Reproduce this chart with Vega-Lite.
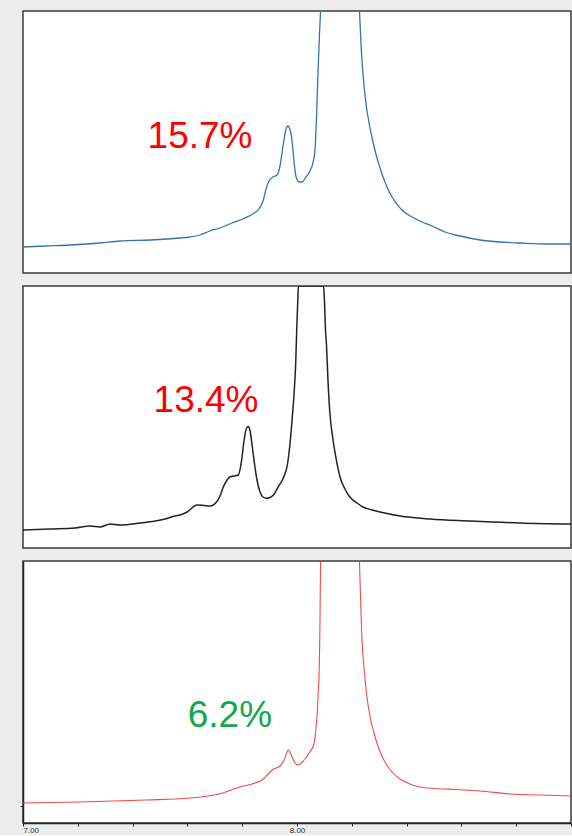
{
  "$schema": "https://vega.github.io/schema/vega-lite/v6.json",
  "background": "#ececec",
  "padding": {"left": 18, "top": 10, "right": 0, "bottom": 0},
  "config": {
    "view": {"fill": "white", "stroke": "#3a3a3a", "strokeWidth": 1.5},
    "text": {"font": "Liberation Sans"}
  },
  "datasets": {
    "spectra": [
      {"panel": 1, "ppm": 7.000, "intensity": 3.62},
      {"panel": 1, "ppm": 7.080, "intensity": 4.03},
      {"panel": 1, "ppm": 7.172, "intensity": 4.44},
      {"panel": 1, "ppm": 7.281, "intensity": 5.25},
      {"panel": 1, "ppm": 7.354, "intensity": 6.07},
      {"panel": 1, "ppm": 7.464, "intensity": 6.48},
      {"panel": 1, "ppm": 7.573, "intensity": 7.29},
      {"panel": 1, "ppm": 7.609, "intensity": 7.70},
      {"panel": 1, "ppm": 7.646, "intensity": 8.52},
      {"panel": 1, "ppm": 7.682, "intensity": 10.15},
      {"panel": 1, "ppm": 7.719, "intensity": 11.38},
      {"panel": 1, "ppm": 7.763, "intensity": 13.42},
      {"panel": 1, "ppm": 7.810, "intensity": 15.46},
      {"panel": 1, "ppm": 7.839, "intensity": 17.10},
      {"panel": 1, "ppm": 7.861, "intensity": 19.14},
      {"panel": 1, "ppm": 7.876, "intensity": 22.40},
      {"panel": 1, "ppm": 7.887, "intensity": 27.31},
      {"panel": 1, "ppm": 7.898, "intensity": 30.57},
      {"panel": 1, "ppm": 7.912, "intensity": 32.21},
      {"panel": 1, "ppm": 7.927, "intensity": 33.02},
      {"panel": 1, "ppm": 7.938, "intensity": 36.70},
      {"panel": 1, "ppm": 7.949, "intensity": 44.87},
      {"panel": 1, "ppm": 7.960, "intensity": 51.81},
      {"panel": 1, "ppm": 7.967, "intensity": 53.03},
      {"panel": 1, "ppm": 7.974, "intensity": 51.81},
      {"panel": 1, "ppm": 7.982, "intensity": 46.91},
      {"panel": 1, "ppm": 7.989, "intensity": 38.74},
      {"panel": 1, "ppm": 7.996, "intensity": 32.61},
      {"panel": 1, "ppm": 8.007, "intensity": 30.16},
      {"panel": 1, "ppm": 8.018, "intensity": 30.16},
      {"panel": 1, "ppm": 8.033, "intensity": 32.21},
      {"panel": 1, "ppm": 8.047, "intensity": 34.66},
      {"panel": 1, "ppm": 8.058, "intensity": 37.92},
      {"panel": 1, "ppm": 8.066, "intensity": 43.64},
      {"panel": 1, "ppm": 8.072, "intensity": 59.16},
      {"panel": 1, "ppm": 8.077, "intensity": 75.50},
      {"panel": 1, "ppm": 8.082, "intensity": 90.61},
      {"panel": 1, "ppm": 8.086, "intensity": 100},
      {"panel": 1, "ppm": 8.157, "intensity": 400},
      {"panel": 1, "ppm": 8.228, "intensity": 100},
      {"panel": 1, "ppm": 8.235, "intensity": 83.66},
      {"panel": 1, "ppm": 8.243, "intensity": 71.41},
      {"panel": 1, "ppm": 8.252, "intensity": 62.02},
      {"panel": 1, "ppm": 8.263, "intensity": 54.26},
      {"panel": 1, "ppm": 8.274, "intensity": 48.13},
      {"panel": 1, "ppm": 8.288, "intensity": 41.60},
      {"panel": 1, "ppm": 8.303, "intensity": 35.88},
      {"panel": 1, "ppm": 8.321, "intensity": 30.16},
      {"panel": 1, "ppm": 8.339, "intensity": 25.67},
      {"panel": 1, "ppm": 8.361, "intensity": 21.59},
      {"panel": 1, "ppm": 8.387, "intensity": 18.32},
      {"panel": 1, "ppm": 8.420, "intensity": 15.87},
      {"panel": 1, "ppm": 8.456, "intensity": 13.83},
      {"panel": 1, "ppm": 8.493, "intensity": 12.19},
      {"panel": 1, "ppm": 8.540, "intensity": 9.74},
      {"panel": 1, "ppm": 8.595, "intensity": 8.11},
      {"panel": 1, "ppm": 8.668, "intensity": 6.48},
      {"panel": 1, "ppm": 8.741, "intensity": 5.66},
      {"panel": 1, "ppm": 8.814, "intensity": 5.25},
      {"panel": 1, "ppm": 8.905, "intensity": 4.84},
      {"panel": 1, "ppm": 9.000, "intensity": 4.84},

      {"panel": 2, "ppm": 7.000, "intensity": 0.35},
      {"panel": 2, "ppm": 7.099, "intensity": 0.76},
      {"panel": 2, "ppm": 7.190, "intensity": 1.17},
      {"panel": 2, "ppm": 7.245, "intensity": 1.98},
      {"panel": 2, "ppm": 7.281, "intensity": 1.58},
      {"panel": 2, "ppm": 7.318, "intensity": 2.80},
      {"panel": 2, "ppm": 7.354, "intensity": 2.39},
      {"panel": 2, "ppm": 7.427, "intensity": 3.21},
      {"panel": 2, "ppm": 7.482, "intensity": 4.03},
      {"panel": 2, "ppm": 7.518, "intensity": 4.84},
      {"panel": 2, "ppm": 7.555, "intensity": 6.07},
      {"panel": 2, "ppm": 7.573, "intensity": 6.48},
      {"panel": 2, "ppm": 7.599, "intensity": 7.70},
      {"panel": 2, "ppm": 7.635, "intensity": 10.56},
      {"panel": 2, "ppm": 7.661, "intensity": 10.36},
      {"panel": 2, "ppm": 7.682, "intensity": 10.15},
      {"panel": 2, "ppm": 7.707, "intensity": 11.91},
      {"panel": 2, "ppm": 7.719, "intensity": 14.24},
      {"panel": 2, "ppm": 7.731, "intensity": 17.91},
      {"panel": 2, "ppm": 7.745, "intensity": 20.77},
      {"panel": 2, "ppm": 7.755, "intensity": 22.00},
      {"panel": 2, "ppm": 7.770, "intensity": 22.40},
      {"panel": 2, "ppm": 7.786, "intensity": 22.81},
      {"panel": 2, "ppm": 7.798, "intensity": 28.94},
      {"panel": 2, "ppm": 7.807, "intensity": 37.11},
      {"panel": 2, "ppm": 7.816, "intensity": 42.01},
      {"panel": 2, "ppm": 7.822, "intensity": 42.62},
      {"panel": 2, "ppm": 7.828, "intensity": 41.19},
      {"panel": 2, "ppm": 7.836, "intensity": 35.07},
      {"panel": 2, "ppm": 7.843, "intensity": 28.94},
      {"panel": 2, "ppm": 7.854, "intensity": 20.77},
      {"panel": 2, "ppm": 7.865, "intensity": 15.87},
      {"panel": 2, "ppm": 7.876, "intensity": 13.83},
      {"panel": 2, "ppm": 7.889, "intensity": 13.30},
      {"panel": 2, "ppm": 7.901, "intensity": 13.62},
      {"panel": 2, "ppm": 7.914, "intensity": 14.65},
      {"panel": 2, "ppm": 7.931, "intensity": 17.91},
      {"panel": 2, "ppm": 7.950, "intensity": 21.59},
      {"panel": 2, "ppm": 7.964, "intensity": 26.49},
      {"panel": 2, "ppm": 7.974, "intensity": 35.07},
      {"panel": 2, "ppm": 7.982, "intensity": 45.28},
      {"panel": 2, "ppm": 7.989, "intensity": 55.49},
      {"panel": 2, "ppm": 7.995, "intensity": 67.74},
      {"panel": 2, "ppm": 7.999, "intensity": 82.03},
      {"panel": 2, "ppm": 8.003, "intensity": 94.28},
      {"panel": 2, "ppm": 8.005, "intensity": 100},
      {"panel": 2, "ppm": 8.097, "intensity": 100},
      {"panel": 2, "ppm": 8.100, "intensity": 94.28},
      {"panel": 2, "ppm": 8.104, "intensity": 82.03},
      {"panel": 2, "ppm": 8.108, "intensity": 75.09},
      {"panel": 2, "ppm": 8.113, "intensity": 61.61},
      {"panel": 2, "ppm": 8.120, "intensity": 48.13},
      {"panel": 2, "ppm": 8.130, "intensity": 38.33},
      {"panel": 2, "ppm": 8.139, "intensity": 31.80},
      {"panel": 2, "ppm": 8.157, "intensity": 22.00},
      {"panel": 2, "ppm": 8.175, "intensity": 17.10},
      {"panel": 2, "ppm": 8.193, "intensity": 13.83},
      {"panel": 2, "ppm": 8.219, "intensity": 11.38},
      {"panel": 2, "ppm": 8.241, "intensity": 9.74},
      {"panel": 2, "ppm": 8.274, "intensity": 8.52},
      {"panel": 2, "ppm": 8.303, "intensity": 7.70},
      {"panel": 2, "ppm": 8.376, "intensity": 6.07},
      {"panel": 2, "ppm": 8.485, "intensity": 4.84},
      {"panel": 2, "ppm": 8.631, "intensity": 4.03},
      {"panel": 2, "ppm": 8.814, "intensity": 3.21},
      {"panel": 2, "ppm": 9.000, "intensity": 2.80},

      {"panel": 3, "ppm": 7.000, "intensity": 1.17},
      {"panel": 3, "ppm": 7.208, "intensity": 1.58},
      {"panel": 3, "ppm": 7.449, "intensity": 2.39},
      {"panel": 3, "ppm": 7.609, "intensity": 3.21},
      {"panel": 3, "ppm": 7.715, "intensity": 4.84},
      {"panel": 3, "ppm": 7.792, "intensity": 7.70},
      {"panel": 3, "ppm": 7.847, "intensity": 9.34},
      {"panel": 3, "ppm": 7.872, "intensity": 10.56},
      {"panel": 3, "ppm": 7.891, "intensity": 12.60},
      {"panel": 3, "ppm": 7.909, "intensity": 14.65},
      {"panel": 3, "ppm": 7.938, "intensity": 16.28},
      {"panel": 3, "ppm": 7.953, "intensity": 18.73},
      {"panel": 3, "ppm": 7.962, "intensity": 21.59},
      {"panel": 3, "ppm": 7.968, "intensity": 22.81},
      {"panel": 3, "ppm": 7.974, "intensity": 22.00},
      {"panel": 3, "ppm": 7.982, "intensity": 19.95},
      {"panel": 3, "ppm": 7.993, "intensity": 17.50},
      {"panel": 3, "ppm": 8.004, "intensity": 16.69},
      {"panel": 3, "ppm": 8.026, "intensity": 18.73},
      {"panel": 3, "ppm": 8.047, "intensity": 22.00},
      {"panel": 3, "ppm": 8.062, "intensity": 25.26},
      {"panel": 3, "ppm": 8.069, "intensity": 31.39},
      {"panel": 3, "ppm": 8.074, "intensity": 38.33},
      {"panel": 3, "ppm": 8.078, "intensity": 47.73},
      {"panel": 3, "ppm": 8.080, "intensity": 51.81},
      {"panel": 3, "ppm": 8.084, "intensity": 76.31},
      {"panel": 3, "ppm": 8.086, "intensity": 100},
      {"panel": 3, "ppm": 8.157, "intensity": 400},
      {"panel": 3, "ppm": 8.228, "intensity": 100},
      {"panel": 3, "ppm": 8.232, "intensity": 84.48},
      {"panel": 3, "ppm": 8.237, "intensity": 68.15},
      {"panel": 3, "ppm": 8.245, "intensity": 55.89},
      {"panel": 3, "ppm": 8.254, "intensity": 45.68},
      {"panel": 3, "ppm": 8.266, "intensity": 36.70},
      {"panel": 3, "ppm": 8.281, "intensity": 29.76},
      {"panel": 3, "ppm": 8.299, "intensity": 23.22},
      {"panel": 3, "ppm": 8.321, "intensity": 17.91},
      {"panel": 3, "ppm": 8.347, "intensity": 13.83},
      {"panel": 3, "ppm": 8.376, "intensity": 10.97},
      {"panel": 3, "ppm": 8.412, "intensity": 8.93},
      {"panel": 3, "ppm": 8.449, "intensity": 7.70},
      {"panel": 3, "ppm": 8.504, "intensity": 7.09},
      {"panel": 3, "ppm": 8.580, "intensity": 6.68},
      {"panel": 3, "ppm": 8.668, "intensity": 6.07},
      {"panel": 3, "ppm": 8.781, "intensity": 4.84},
      {"panel": 3, "ppm": 8.887, "intensity": 4.44},
      {"panel": 3, "ppm": 9.000, "intensity": 4.03}
    ],
    "labels": [
      {"panel": 1, "ppm": 7.646, "intensity": 44.0, "label": "15.7%"},
      {"panel": 2, "ppm": 7.668, "intensity": 48.5, "label": "13.4%"},
      {"panel": 3, "ppm": 7.755, "intensity": 32.2, "label": "6.2%"}
    ]
  },
  "spacing": 11,
  "resolve": {"scale": {"x": "independent", "y": "independent"}},
  "vconcat": [
    {
      "width": 548,
      "height": 262,
      "layer": [
        {
          "data": {"name": "spectra"},
          "transform": [{"filter": "datum.panel == 1"}],
          "mark": {"type": "line", "clip": true, "interpolate": "monotone", "color": "#3474ad", "strokeWidth": 1.3},
          "encoding": {
            "x": {"field": "ppm", "type": "quantitative", "scale": {"domain": [7, 9], "nice": false, "zero": false}, "axis": null},
            "y": {"field": "intensity", "type": "quantitative", "scale": {"domain": [-7, 100], "nice": false, "zero": false}, "axis": null}
          }
        },
        {
          "data": {"name": "labels"},
          "transform": [{"filter": "datum.panel == 1"}],
          "mark": {"type": "text", "fontSize": 37, "align": "center", "baseline": "alphabetic", "color": "#ff0000"},
          "encoding": {
            "x": {"field": "ppm", "type": "quantitative"},
            "y": {"field": "intensity", "type": "quantitative"},
            "text": {"field": "label"}
          }
        }
      ]
    },
    {
      "width": 548,
      "height": 262,
      "layer": [
        {
          "data": {"name": "spectra"},
          "transform": [{"filter": "datum.panel == 2"}],
          "mark": {"type": "line", "clip": true, "interpolate": "monotone", "color": "#222222", "strokeWidth": 1.5},
          "encoding": {
            "x": {"field": "ppm", "type": "quantitative", "scale": {"domain": [7, 9], "nice": false, "zero": false}, "axis": null},
            "y": {"field": "intensity", "type": "quantitative", "scale": {"domain": [-7, 100], "nice": false, "zero": false}, "axis": null}
          }
        },
        {
          "data": {"name": "labels"},
          "transform": [{"filter": "datum.panel == 2"}],
          "mark": {"type": "text", "fontSize": 37, "align": "center", "baseline": "alphabetic", "color": "#ff0000"},
          "encoding": {
            "x": {"field": "ppm", "type": "quantitative"},
            "y": {"field": "intensity", "type": "quantitative"},
            "text": {"field": "label"}
          }
        }
      ]
    },
    {
      "width": 548,
      "height": 262,
      "layer": [
        {
          "data": {"name": "spectra"},
          "transform": [{"filter": "datum.panel == 3"}],
          "mark": {"type": "line", "clip": true, "interpolate": "monotone", "color": "#f04a4a", "strokeWidth": 1.1},
          "encoding": {
            "x": {
              "field": "ppm", "type": "quantitative",
              "scale": {"domain": [7, 9], "nice": false, "zero": false},
              "axis": {
                "orient": "bottom", "title": null, "grid": false,
                "values": [7, 7.1, 7.2, 7.3, 7.4, 7.5, 7.6, 7.7, 7.8, 7.9, 8, 8.1, 8.2, 8.3, 8.4, 8.5, 8.6, 8.7, 8.8, 8.9, 9],
                "labelExpr": "datum.value == 7 || datum.value == 8 ? format(datum.value, '.2f') : ''",
                "tickSize": 3, "tickColor": "#222222", "domainColor": "#222222", "domainWidth": 1.5,
                "labelFont": "Liberation Sans", "labelFontSize": 8, "labelPadding": 0, "labelColor": "#333333"
              }
            },
            "y": {
              "field": "intensity", "type": "quantitative",
              "scale": {"domain": [-7, 100], "nice": false, "zero": false},
              "axis": {
                "orient": "left", "title": null, "grid": false, "values": [0], "labels": false,
                "tickSize": 3, "tickColor": "#222222", "domainColor": "#222222", "domainWidth": 1.5
              }
            }
          }
        },
        {
          "data": {"name": "labels"},
          "transform": [{"filter": "datum.panel == 3"}],
          "mark": {"type": "text", "fontSize": 37, "align": "center", "baseline": "alphabetic", "color": "#12a84c"},
          "encoding": {
            "x": {"field": "ppm", "type": "quantitative"},
            "y": {"field": "intensity", "type": "quantitative"},
            "text": {"field": "label"}
          }
        }
      ]
    }
  ]
}
